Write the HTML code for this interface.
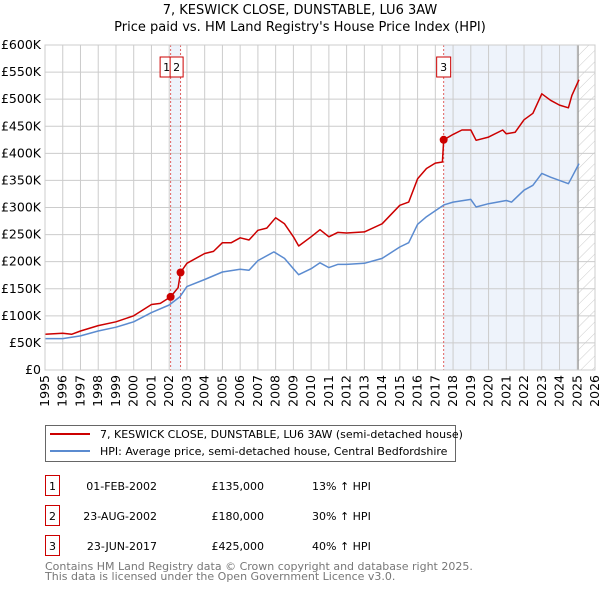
<!DOCTYPE html>
<html><head><meta charset="utf-8"><style>
body{margin:0;background:#fff;font-family:"Liberation Sans","DejaVu Sans",sans-serif;}
svg text{font-family:"DejaVu Sans","Liberation Sans",sans-serif;}
</style></head><body>
<svg id="c" width="600" height="590" viewBox="0 0 600 590" xmlns="http://www.w3.org/2000/svg">
<text x="300" y="14" text-anchor="middle" font-size="13" fill="#000">7, KESWICK CLOSE, DUNSTABLE, LU6 3AW</text>
<text x="300" y="31" text-anchor="middle" font-size="13" fill="#000">Price paid vs. HM Land Registry's House Price Index (HPI)</text>
<g id="plot"></g>
<g>
<rect x="45.5" y="425.5" width="410" height="36" fill="#fff" stroke="#666"/>
<line x1="50" y1="434" x2="90" y2="434" stroke="#cc0000" stroke-width="2"/>
<text x="100" y="438" font-size="11">7, KESWICK CLOSE, DUNSTABLE, LU6 3AW (semi-detached house)</text>
<line x1="50" y1="451" x2="90" y2="451" stroke="#5b8bd0" stroke-width="2"/>
<text x="100" y="455" font-size="11">HPI: Average price, semi-detached house, Central Bedfordshire</text>
</g>
<g font-size="11">
<rect x="45.5" y="475.5" width="14" height="20" fill="none" stroke="#cc0000"/><text x="52.5" y="490" text-anchor="middle">1</text>
<text x="157" y="490" text-anchor="end">01-FEB-2002</text><text x="264" y="490" text-anchor="end">£135,000</text><text x="312" y="490">13% ↑ HPI</text>
<rect x="45.5" y="505.5" width="14" height="20" fill="none" stroke="#cc0000"/><text x="52.5" y="520" text-anchor="middle">2</text>
<text x="157" y="520" text-anchor="end">23-AUG-2002</text><text x="264" y="520" text-anchor="end">£180,000</text><text x="312" y="520">30% ↑ HPI</text>
<rect x="45.5" y="535.5" width="14" height="20" fill="none" stroke="#cc0000"/><text x="52.5" y="550" text-anchor="middle">3</text>
<text x="157" y="550" text-anchor="end">23-JUN-2017</text><text x="264" y="550" text-anchor="end">£425,000</text><text x="312" y="550">40% ↑ HPI</text>
</g>
<text x="45" y="570" font-size="11" fill="#777">Contains HM Land Registry data © Crown copyright and database right 2025.</text>
<text x="45" y="580" font-size="11" fill="#777">This data is licensed under the Open Government Licence v3.0.</text>
</svg>
<script>
const yTicks=[0,50,100,150,200,250,300,350,400,450,500,550,600];
const yTickLabels=["£0","£50K","£100K","£150K","£200K","£250K","£300K","£350K","£400K","£450K","£500K","£550K","£600K"];
const xYears=[1995,1996,1997,1998,1999,2000,2001,2002,2003,2004,2005,2006,2007,2008,2009,2010,2011,2012,2013,2014,2015,2016,2017,2018,2019,2020,2021,2022,2023,2024,2025,2026];
const hpiT=[1995,1996,1997,1998,1999,2000,2001,2002,2002.6,2003,2004,2005,2006,2006.5,2007,2007.9,2008.5,2009,2009.3,2010,2010.5,2011,2011.5,2012,2013,2014,2015,2015.5,2016,2016.5,2017,2017.5,2018,2019,2019.3,2020,2021,2021.3,2022,2022.5,2023,2023.5,2024,2024.5,2024.7,2025.1];
const hpiV=[58,58,63,72,79,89,106,120,135,154,167,181,186,184,202,218,206,187,176,187,198,189,195,195,197,206,227,235,269,283,294,305,310,315,301,307,313,310,332,341,363,356,350,344,356,381];
const priceT=[1995,1996,1996.5,1997,1998,1999,2000,2001,2001.5,2002.08,2002.5,2002.64,2003,2004,2004.5,2005,2005.5,2006,2006.5,2007,2007.5,2008,2008.5,2009,2009.3,2010,2010.5,2011,2011.5,2012,2013,2014,2015,2015.5,2016,2016.5,2017,2017.4,2017.47,2018,2018.5,2019,2019.3,2020,2020.8,2021,2021.5,2022,2022.5,2023,2023.5,2024,2024.5,2024.7,2025.1];
const priceV=[66,68,66,72,82,89,100,121,123,135,152,180,197,215,219,235,235,244,240,258,262,281,270,246,229,246,259,246,254,253,255,270,304,310,353,372,382,384,425,435,443,443,424,430,443,436,439,462,474,510,498,489,484,507,536];
const saleLabels=["1","2","3"];
const saleT=[2002.08,2002.64,2017.47];
const saleV=[135,180,425];

const X0=45,X1=595,Y0=370,Y1=45;
const xs=t=>X0+(t-1995)/(2026-1995)*(X1-X0);
const ys=v=>Y0-v/600*(Y0-Y1);
const NS="http://www.w3.org/2000/svg";
const plot=document.getElementById('plot');
function mk(tag,attrs,parent){const e=document.createElementNS(NS,tag);for(const k in attrs)e.setAttribute(k,attrs[k]);(parent||plot).appendChild(e);return e;}

const shade=mk('rect',{x:xs(saleT[0]),y:Y1,width:xs(saleT[1])-xs(saleT[0]),height:Y0-Y1,fill:'#eef3fb'});


const shade2=mk('rect',{x:xs(saleT[2]),y:Y1,width:xs(2025.05)-xs(saleT[2]),height:Y0-Y1,fill:'#eef3fb'});


const defs=mk('defs',{});
const pat=mk('pattern',{id:'h',width:8,height:8,patternUnits:'userSpaceOnUse',patternTransform:'rotate(45)'},defs);
mk('line',{x1:0,y1:0,x2:0,y2:8,stroke:'#ccc','stroke-width':1},pat);
const hatch=mk('rect',{x:xs(2025.05),y:Y1,width:X1-xs(2025.05),height:Y0-Y1,fill:'url(#h)'});



yTicks.forEach((v,i)=>{
  const g=mk('line',{x1:X0,x2:X1,y1:ys(v),y2:ys(v),stroke:'#ccc','stroke-width':1});
  
  
  const t=mk('text',{x:X0-4,y:ys(v)+4,'text-anchor':'end','font-size':'12.5'});
  t.textContent=yTickLabels[i];
  
  
});
xYears.forEach(yr=>{
  const g=mk('line',{x1:xs(yr),x2:xs(yr),y1:Y1,y2:Y0,stroke:'#ccc','stroke-width':1});
  
  
  const t=mk('text',{x:0,y:0,'text-anchor':'end','font-size':'12.5',transform:`translate(${xs(yr)+4},${Y0+5}) rotate(-90)`});
  t.textContent=yr;
  
  
});
const vl=mk('line',{x1:xs(2025.05),x2:xs(2025.05),y1:Y1,y2:Y0,stroke:'#999','stroke-width':1.2});



saleT.forEach((t,i)=>{
  const l=mk('line',{x1:xs(t),x2:xs(t),y1:Y1,y2:Y0,stroke:'#e06060','stroke-width':1,'stroke-dasharray':'2,2'});
  
  
});

function path(T,V,color,name){
  const d=T.map((t,i)=>(i?'L':'M')+xs(t).toFixed(1)+','+ys(V[i]).toFixed(1)).join('');
  const p=mk('path',{d:d,fill:'none',stroke:color,'stroke-width':1.5,'stroke-linejoin':'round'});
  
  
}
path(hpiT,hpiV,'#5b8bd0','hpi-line');
path(priceT,priceV,'#cc0000','price-line');

saleT.forEach((t,i)=>{
  const c=mk('circle',{cx:xs(t),cy:ys(saleV[i]),r:4,fill:'#cc0000'});
  
  
});
const boxX=[xs(saleT[0])-10.5,xs(saleT[0])-0.5,xs(saleT[2])-7];
const boxW=[13,13,14];
saleT.forEach((t,i)=>{
  const r=mk('rect',{x:boxX[i],y:57,width:boxW[i],height:20,fill:'#fff',stroke:'#cc0000'});
  
  
  const tx=mk('text',{x:boxX[i]+boxW[i]/2,y:71,'text-anchor':'middle','font-size':'11'});
  tx.textContent=saleLabels[i];
  
  
});
const fr=mk('rect',{x:X0,y:Y1,width:X1-X0,height:Y0-Y1,fill:'none',stroke:'#ccc'});


</script>
</body></html>
